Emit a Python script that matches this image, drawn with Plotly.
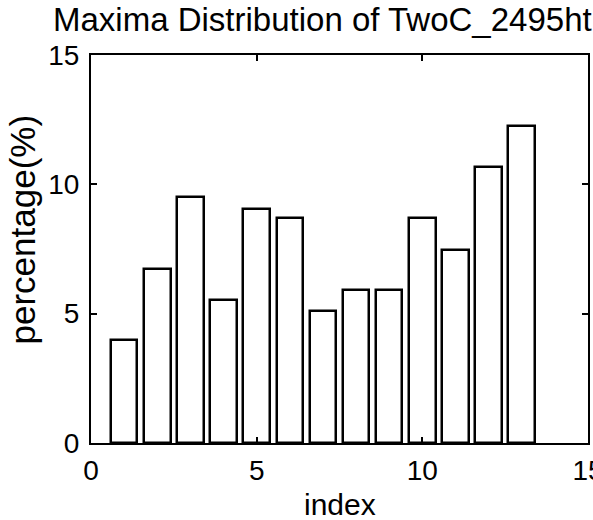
import plotly.graph_objects as go

index = [1, 2, 3, 4, 5, 6, 7, 8, 9, 10, 11, 12, 13]
percentage = [4.0, 6.73, 9.52, 5.52, 9.06, 8.68, 5.09, 5.9, 5.9, 8.68, 7.45, 10.66, 12.26]
tick_vals = [0, 5, 10, 15]

title_text = "Maxima Distribution of TwoC_2495ht"
x_label = "index"
y_label = "percentage(%)"

FONT = "Liberation Sans, Arial, sans-serif"
W, H = 593, 520
L, R, T, B = 91, 5, 55, 77

fig = go.Figure()
fig.add_trace(go.Bar(
    x=index, y=percentage, width=0.8,
    marker=dict(color="white", line=dict(color="black", width=2.5)),
    showlegend=False,
))

axis_common = dict(
    showline=True, linecolor="black", linewidth=2, mirror="ticks",
    ticks="inside", ticklen=6, tickwidth=1.5, tickcolor="black",
    showgrid=False, zeroline=False, automargin=False,
    tickfont=dict(family=FONT, size=28, color="black"),
    tickmode="array", tickvals=tick_vals,
    ticklabeloverflow="allow",
)

fig.update_layout(
    width=W, height=H,
    margin=dict(l=L, r=R, t=T, b=B, pad=0),
    paper_bgcolor="white", plot_bgcolor="white",
    template="none",
    bargap=0,
    title=dict(text=title_text, xref="container", yref="container",
               x=53 / W, xanchor="left", y=1 - 8 / H, yanchor="top",
               font=dict(family=FONT, size=33, color="black")),
    xaxis=dict(range=[0, 15], ticklabelstandoff=1, **axis_common),
    yaxis=dict(range=[0, 15], ticklabelstandoff=4, **axis_common),
    annotations=[
        dict(text=x_label, xref="paper", yref="paper", x=0.5, y=0,
             xanchor="center", yanchor="top", yshift=-43, showarrow=False,
             font=dict(family=FONT, size=30, color="black")),
        dict(text=y_label, xref="paper", yref="paper", x=0, y=(443 - 230) / 388,
             xanchor="right", yanchor="middle", xshift=-47, textangle=-90,
             showarrow=False, font=dict(family=FONT, size=35, color="black")),
    ],
)

fig.write_html("out.html")
